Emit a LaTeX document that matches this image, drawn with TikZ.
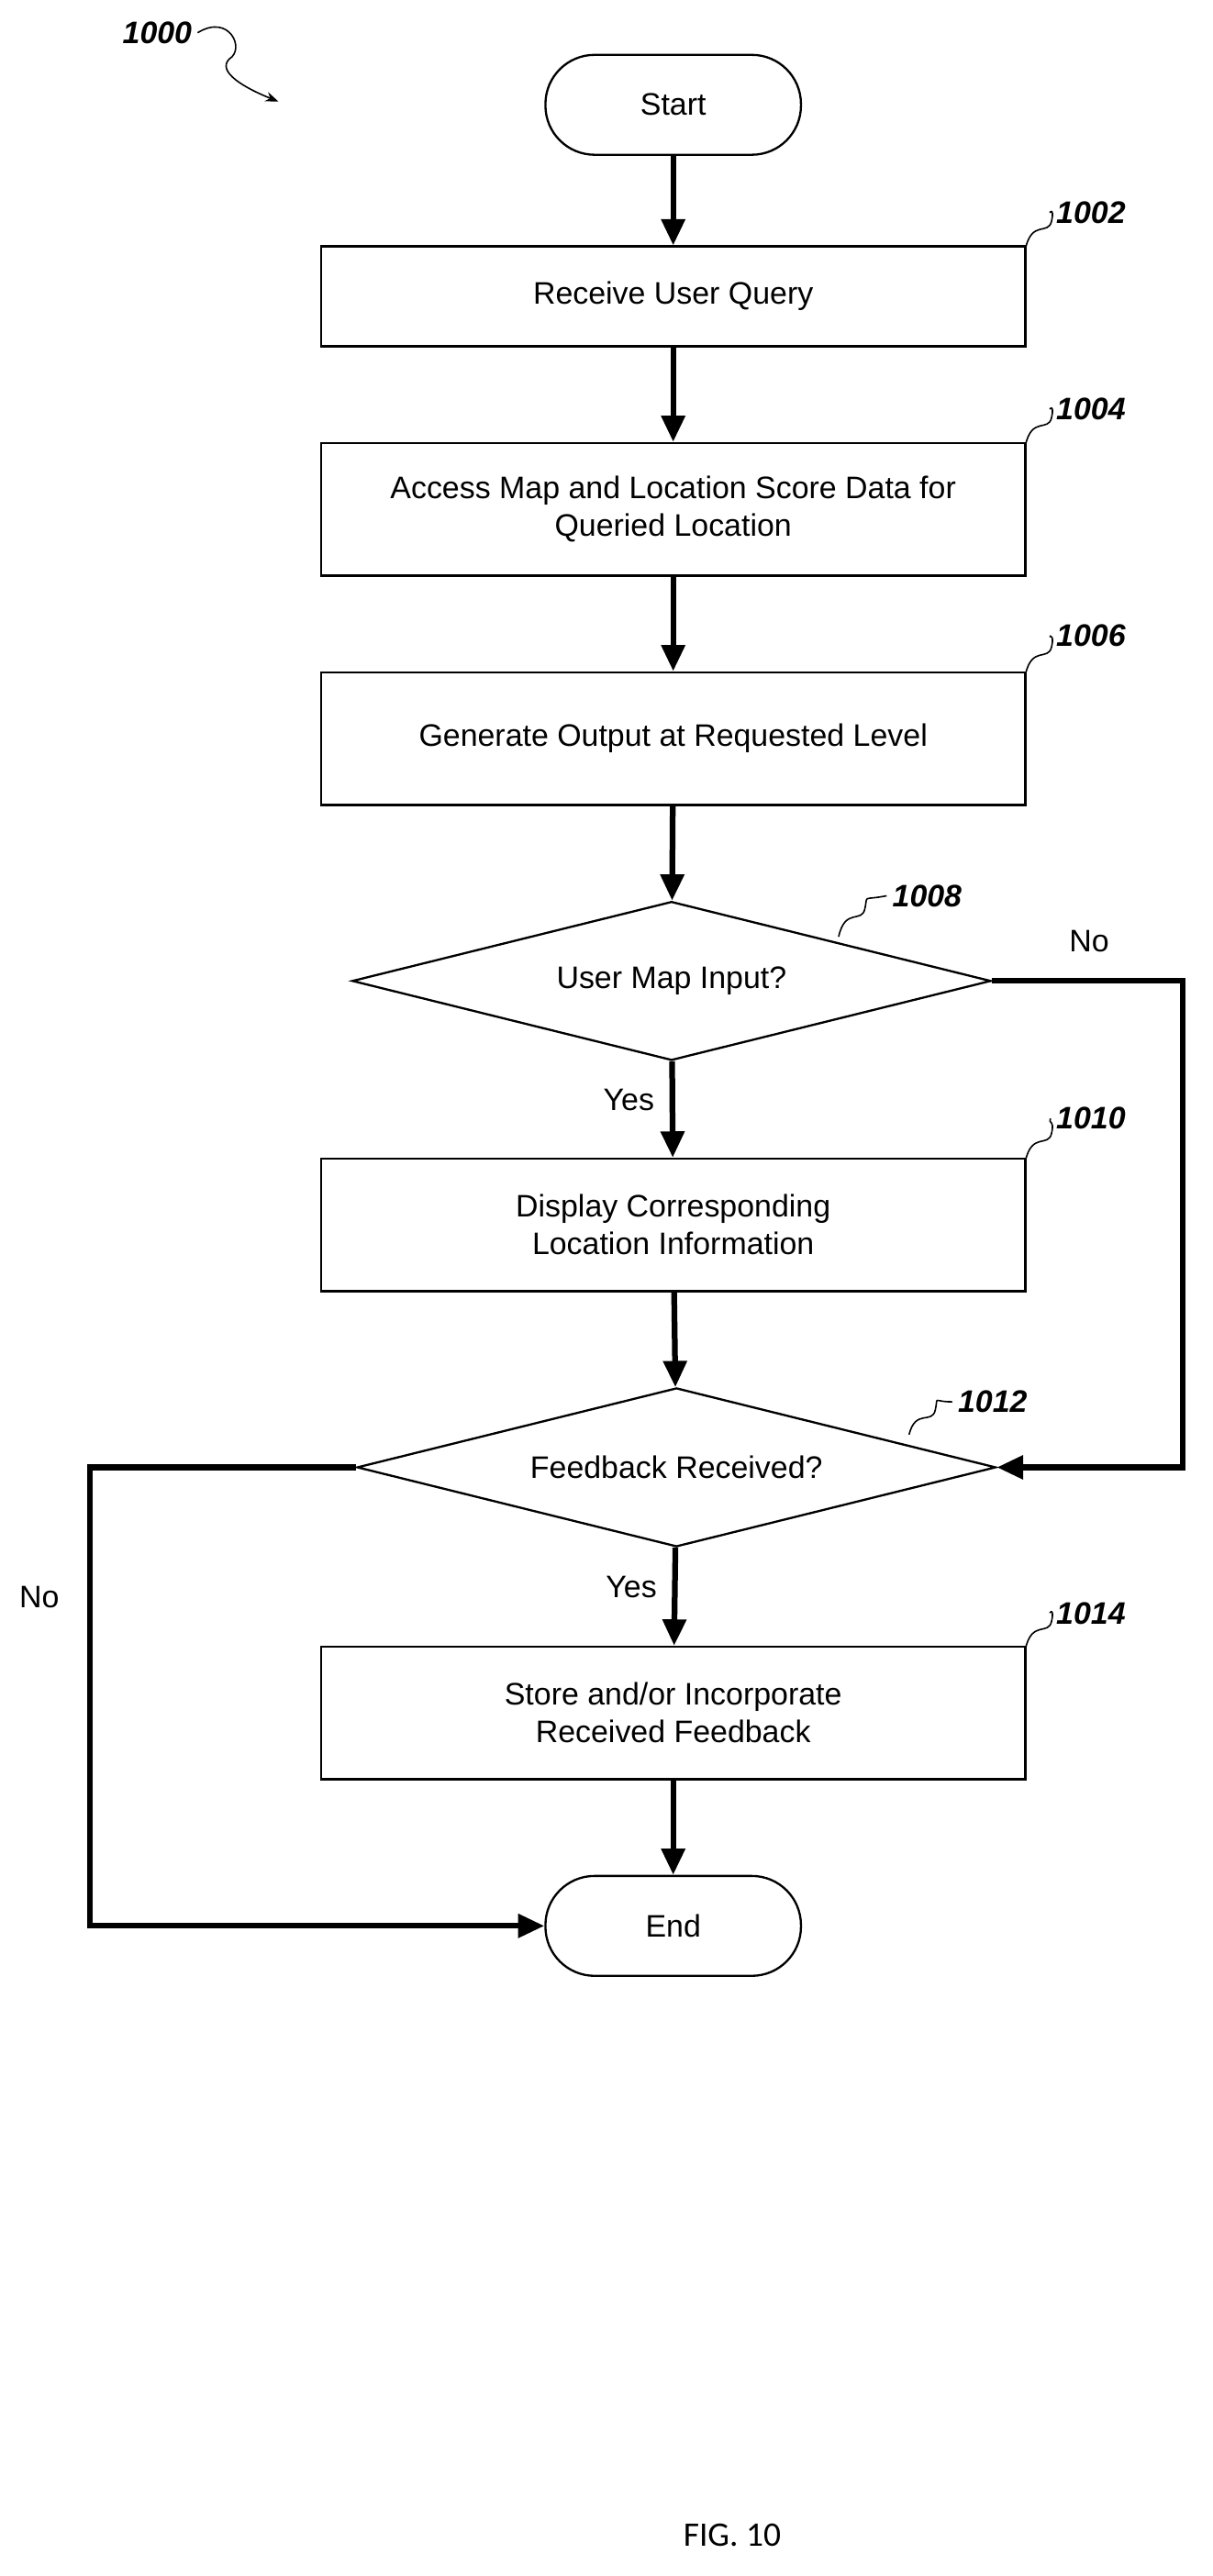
\documentclass[tikz,border=0pt]{standalone}
\usepackage{fontspec}
\setmainfont{Liberation Sans}
\newfontfamily\figfont{Carlito}
\usetikzlibrary{positioning, arrows.meta, calc, shapes.geometric}

\begin{document}
\begin{tikzpicture}[
        x=1pt, y=-1pt,
        % --- stiluri ---
        % 1. Pasii din flux
        action/.style={
                draw=black,
                line width=1.3pt,
                align=center,
                minimum width=430pt,
                minimum height=81pt,
                font=\fontsize{19}{23}\selectfont
            },
        % 2. Start / End
        term/.style={
                draw=black,
                line width=1.3pt,
                rounded corners=30pt,
                minimum width=156pt,
                minimum height=61pt,
                font=\fontsize{19}{23}\selectfont
            },
        % 3. Deciziile
        decision/.style={
                draw=black,
                line width=1.3pt,
                diamond,
                aspect=4,
                inner sep=0pt,
                minimum width=390pt,
                minimum height=97pt,
                font=\fontsize{19}{23}\selectfont
            },
        % 4. Sagetile groase
        flow/.style={
                line width=3.5pt,
                -{Triangle[length=16pt,width=14pt]}
            },
        % 5. Numerele de referinta
        ref/.style={
                font=\bfseries\itshape\fontsize{19}{23}\selectfont
            },
        lbl/.style={font=\fontsize{19}{23}\selectfont},
        squig/.style={line width=0.9pt}
    ]
    \useasboundingbox (0,0) rectangle (740,1573);

    % 1. Nodurile
    \node[term] (start) at (411,64) {Start};
    \node[action, minimum height=61pt] (query) at (411,181) {Receive User Query};
    \node[action] (access) at (411,311) {Access Map and Location Score Data for\\Queried Location};
    \node[action] (output) at (411,451) {Generate Output at Requested Level};
    \node[decision] (mapin) at (410,599) {User Map Input?};
    \node[action] (display) at (411,748) {Display Corresponding\\Location Information};
    \node[decision] (feedback) at (413,896) {Feedback Received?};
    \node[action] (store) at (411,1046) {Store and/or Incorporate\\Received Feedback};
    \node[term] (end) at (411,1176) {End};

    % 2. Fluxul principal
    \draw[flow] (start) -- (query);
    \draw[flow] (query) -- (access);
    \draw[flow] (access) -- (output);
    \draw[flow] (output) -- (mapin);
    \draw[flow] (mapin) -- node[lbl, pos=0.4, left=6pt] {Yes} (display);
    \draw[flow] (display) -- (feedback);
    \draw[flow] (feedback) -- node[lbl, pos=0.4, left=6pt] {Yes} (store);
    \draw[flow] (store) -- (end);

    % 3. Ramurile "No"
    \coordinate (noR) at (722,599);
    \coordinate (noL) at (55,896);
    \draw[flow] (mapin.east) -- (noR) |- (feedback.east);
    \draw[flow] (feedback.west) -- (noL) |- (end.west);
    \node[lbl] (noRlbl) at (665,575) {No};
    \node[lbl] (noLlbl) at (24,975) {No};

    % 4. Numerele de referinta
    \node[ref] (r1000) at (96,20) {1000};
    \node[ref] (r1002) at (666,130) {1002};
    \node[ref] (r1004) at (666,250) {1004};
    \node[ref] (r1006) at (666,388) {1006};
    \node[ref] (r1008) at (566,547) {1008};
    \node[ref] (r1010) at (666,683) {1010};
    \node[ref] (r1012) at (606,856) {1012};
    \node[ref] (r1014) at (666,985) {1014};

    \foreach \r/\x/\y in {r1002/626/152, r1004/626/272, r1006/626/412, r1010/626/709, r1014/626/1007}
        \draw[squig] (\x,\y) .. controls (\x+4,\y-18) and (\x+14,\y-8) .. (\x+16,\y-17)
                             .. controls (\x+18,\y-26) and (\x+14,\y-22) .. (\r.west);
    \draw[squig] (512,572) .. controls (516,554) and (526,564) .. (528,555)
                           .. controls (530,546) and (526,550) .. (r1008.west);
    \draw[squig] (555,876) .. controls (559,860) and (569,870) .. (571,861)
                           .. controls (573,852) and (569,856) .. (r1012.west);
    \draw[squig, -{Stealth[length=8pt]}] (r1000.east) .. controls (140,8) and (150,30) .. (140,36)
        .. controls (132,44) and (150,54) .. (170,62);

    % 5. Titlul figurii
    \node[font=\figfont\fontsize{21}{25}\selectfont] (fig) at (447,1548) {FIG. 10};
\end{tikzpicture}
\end{document}
